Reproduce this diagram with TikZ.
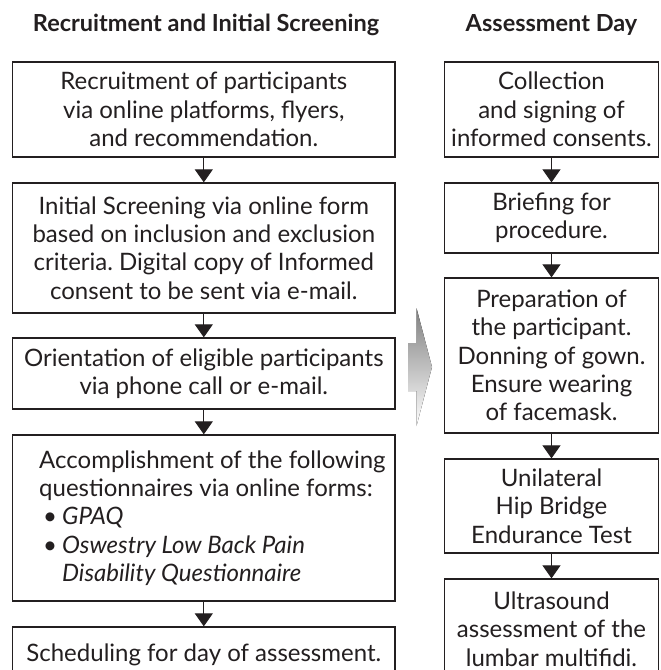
\documentclass[tikz,border=0pt]{standalone}
\usepackage{fontspec}
\setmainfont{Lato}
\usetikzlibrary{arrows.meta}
\definecolor{ink}{HTML}{231F20}
\definecolor{shade}{HTML}{D4D4D4}
\frenchspacing
\begin{document}
\begin{tikzpicture}[x=1pt,y=-1pt,
  box/.style={draw=ink, line width=1.3pt, text=ink, inner sep=0pt, align=center,
    font=\fontsize{24}{28.3}\selectfont},
  lbox/.style={box, minimum width=382.5pt},
  rbox/.style={box, minimum width=214pt},
  body/.style={text=ink, inner sep=0pt, align=left, font=\fontsize{24}{28.3}\selectfont},
  head/.style={text=ink, anchor=base, font=\bfseries\fontsize{23.5}{28}\selectfont},
  flow/.style={draw=ink, line width=1pt, -{Triangle[width=18pt,length=13pt]}}]
\clip (0,0) rectangle (661,670);
\fill[white] (0,0) rectangle (661,670);

% column titles
\node[head] (hl) at (206,31) {Recruitment and Initial Screening};
\node[head] (hr) at (551.5,31) {Assessment Day};

% recruitment and screening steps
\node[lbox, minimum height=95pt] (l1) at (203.8,109.5)
  {Recruitment of participants\\ via online platforms, flyers,\\ and recommendation.};
\node[lbox, minimum height=130pt] (l2) at (203.8,248)
  {Initial Screening via online form\\ based on inclusion and exclusion\\ criteria. Digital copy of Informed\\ consent to be sent via e-mail.};
\node[lbox, minimum height=71pt] (l3) at (203.8,373.5)
  {Orientation of eligible participants\\ via phone call or e-mail.};
\node[lbox, minimum height=166pt] (l4) at (203.8,518) {};
\node[body, anchor=west] (l4t) at (39,518)
  {Accomplishment of the following\\ questionnaires via online forms:\\
   \makebox[23pt][l]{\hspace{4pt}\textbullet}\textit{GPAQ}\\
   \makebox[23pt][l]{\hspace{4pt}\textbullet}\textit{Oswestry Low Back Pain}\\
   \hspace*{23pt}\textit{Disability Questionnaire}};
\node[lbox, minimum height=56pt] (l5) at (203.8,655)
  {Scheduling for day of assessment.};

% assessment day steps
\node[rbox, minimum height=95pt] (r1) at (551.5,109.5)
  {Collection\\ and signing of\\ informed consents.};
\node[rbox, minimum height=70pt] (r2) at (551.5,218)
  {Briefing for\\ procedure.};
\node[rbox, minimum height=155pt] (r3) at (551.5,355.5)
  {Preparation of\\ the participant.\\ Donning of gown.\\ Ensure wearing\\ of facemask.};
\node[rbox, minimum height=94pt] (r4) at (551.5,506)
  {Unilateral\\ Hip Bridge\\ Endurance Test};
\node[rbox, minimum height=100pt] (r5) at (551.5,629)
  {Ultrasound\\ assessment of the\\ lumbar multifidi.};

% step connectors
\draw[flow] (l1.south) -- (l2.north);
\draw[flow] (l2.south) -- (l3.north);
\draw[flow] (l3.south) -- (l4.north);
\draw[flow] (l4.south) -- (l5.north);
\draw[flow] (r1.south) -- (r2.north);
\draw[flow] (r2.south) -- (r3.north);
\draw[flow] (r3.south) -- (r4.north);
\draw[flow] (r4.south) -- (r5.north);

% block arrow between the two phases
\fill[shade] (408,343) -- (416.5,343) -- (416.5,308) -- (432,367) -- (416.5,426)
  -- (416.5,391) -- (408,391) -- cycle;
\end{tikzpicture}
\end{document}
